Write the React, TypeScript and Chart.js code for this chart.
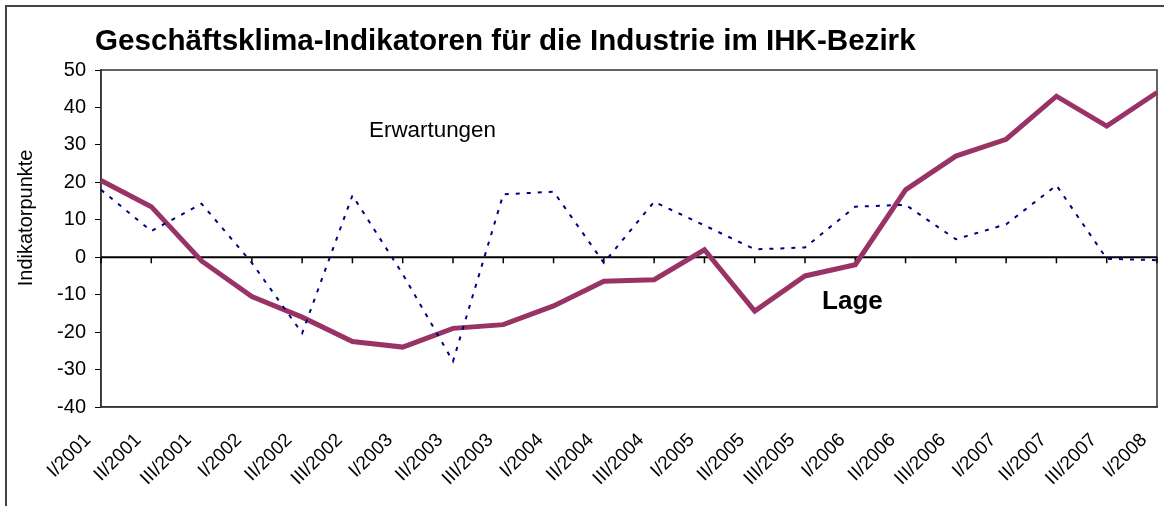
import React, { useEffect, useRef } from "react";
import { Chart, registerables } from "chart.js";

Chart.register(...registerables);

const categories = [
  "I/2001", "II/2001", "III/2001",
  "I/2002", "II/2002", "III/2002",
  "I/2003", "II/2003", "III/2003",
  "I/2004", "II/2004", "III/2004",
  "I/2005", "II/2005", "III/2005",
  "I/2006", "II/2006", "III/2006",
  "I/2007", "II/2007", "III/2007",
  "I/2008",
];

const lageValues = [
  20.5, 13.5, -1, -10.5, -16, -22.5, -24, -19, -18, -13, -6.4,
  -6, 2, -14.4, -5, -2, 18, 27, 31.5, 43, 35, 44,
];

const erwartungenValues = [
  18, 7, 14.3, -1.5, -20.3, 16.5, -4.5, -27.8, 16.8, 17.5, -1.5,
  14.8, 8.5, 2.1, 2.6, 13.5, 14, 4.8, 8.8, 19.2, -0.4, -0.8,
];

const yTickValues = [-40, -30, -20, -10, 0, 10, 20, 30, 40, 50];

const chartTitle = "Geschäftsklima-Indikatoren für die Industrie im IHK-Bezirk";
const yAxisTitle = "Indikatorpunkte";
const lageLabel = "Lage";
const erwartungenLabel = "Erwartungen";

const FONT = "'Liberation Sans', Arial, sans-serif";
const LAGE_COLOR = "#993366";
const ERW_COLOR = "#000080";

const decorPlugin = {
  id: "decor",
  beforeDraw(chart: any) {
    const { ctx, width, height } = chart;
    ctx.save();
    ctx.strokeStyle = "#444444";
    ctx.lineWidth = 2;
    ctx.beginPath();
    ctx.moveTo(6, height);
    ctx.lineTo(6, 6);
    ctx.lineTo(width, 6);
    ctx.stroke();
    ctx.restore();
  },
  beforeDatasetsDraw(chart: any) {
    const { ctx, chartArea, scales } = chart;
    const x = scales.x;
    const y = scales.y;
    ctx.save();
    ctx.strokeStyle = "#333333";
    ctx.lineWidth = 1.5;
    ctx.strokeRect(chartArea.left, chartArea.top, chartArea.right - chartArea.left, chartArea.bottom - chartArea.top);
    const y0 = y.getPixelForValue(0);
    ctx.strokeStyle = "#000000";
    ctx.lineWidth = 2;
    ctx.beginPath();
    ctx.moveTo(chartArea.left, y0);
    ctx.lineTo(chartArea.right, y0);
    ctx.stroke();
    ctx.lineWidth = 1.5;
    ctx.beginPath();
    for (let i = 0; i < categories.length; i++) {
      const px = x.getPixelForTick(i);
      ctx.moveTo(px, y0);
      ctx.lineTo(px, y0 + 6);
    }
    ctx.stroke();
    ctx.restore();
  },
  afterDraw(chart: any) {
    const { ctx, scales, chartArea } = chart;
    const x = scales.x;
    const y = scales.y;

    // chart title
    ctx.save();
    ctx.fillStyle = "#000000";
    ctx.font = `bold 29.6px ${FONT}`;
    ctx.textAlign = "left";
    ctx.textBaseline = "alphabetic";
    ctx.fillText(chartTitle, chartArea.left - 6, chartArea.top - 20);
    ctx.restore();

    // y axis title
    ctx.save();
    ctx.fillStyle = "#000000";
    ctx.font = `20px ${FONT}`;
    ctx.textAlign = "center";
    ctx.textBaseline = "alphabetic";
    ctx.translate(32, y.getPixelForValue(10.5));
    ctx.rotate(-Math.PI / 2);
    ctx.fillText(yAxisTitle, 0, 0);
    ctx.restore();

    // series annotations
    ctx.save();
    ctx.fillStyle = "#000000";
    ctx.textAlign = "left";
    ctx.textBaseline = "alphabetic";
    ctx.font = `22.4px ${FONT}`;
    ctx.fillText(erwartungenLabel, x.getPixelForValue(5.33), y.getPixelForValue(32));
    ctx.font = `bold 26px ${FONT}`;
    ctx.fillText(lageLabel, x.getPixelForValue(14.34), y.getPixelForValue(-13.9));
    ctx.restore();
  },
};

export default function App() {
  const canvasRef = useRef<HTMLCanvasElement | null>(null);

  useEffect(() => {
    if (!canvasRef.current) return;
    const chart = new Chart(canvasRef.current, {
      type: "line",
      data: {
        labels: categories,
        datasets: [
          {
            label: erwartungenLabel,
            data: erwartungenValues,
            borderColor: ERW_COLOR,
            borderWidth: 2,
            borderDash: [4, 7],
            pointRadius: 0,
            tension: 0,
            fill: false,
            order: 0,
          },
          {
            label: lageLabel,
            data: lageValues,
            borderColor: LAGE_COLOR,
            borderWidth: 5,
            pointRadius: 0,
            tension: 0,
            fill: false,
            borderJoinStyle: "miter",
            order: 1,
          },
        ],
      },
      options: {
        animation: false,
        responsive: true,
        maintainAspectRatio: false,
        layout: { padding: { left: 57, right: 7, top: 70, bottom: 0 } },
        plugins: {
          legend: { display: false },
          tooltip: { enabled: false },
          title: { display: false },
        },
        scales: {
          x: {
            type: "category",
            offset: false,
            grid: { display: false, drawTicks: false },
            border: { display: true, color: "#333333", width: 1.5 },
            ticks: {
              autoSkip: false,
              maxRotation: 45,
              minRotation: 45,
              padding: 22,
              labelOffset: -13,
              color: "#000000",
              font: { family: FONT, size: 19 },
            },
            afterFit(scale: any) {
              scale.height = 99;
              scale.paddingLeft = 0;
              scale.paddingRight = 0;
            },
          },
          y: {
            type: "linear",
            min: -40,
            max: 50,
            afterBuildTicks(scale: any) {
              scale.ticks = yTickValues.map((v) => ({ value: v }));
            },
            grid: {
              display: true,
              drawOnChartArea: false,
              drawTicks: true,
              tickLength: 6,
              color: "#000000",
              lineWidth: 1,
            },
            border: { display: true, color: "#333333", width: 1.5 },
            ticks: {
              padding: 9,
              color: "#000000",
              font: { family: FONT, size: 20 },
            },
            afterFit(scale: any) {
              scale.width = 44;
            },
          },
        },
      },
      plugins: [decorPlugin],
    });
    return () => chart.destroy();
  }, []);

  return (
    <div style={{ position: "absolute", left: 0, top: 0, width: 1164, height: 506, background: "#ffffff" }}>
      <canvas ref={canvasRef} />
    </div>
  );
}
